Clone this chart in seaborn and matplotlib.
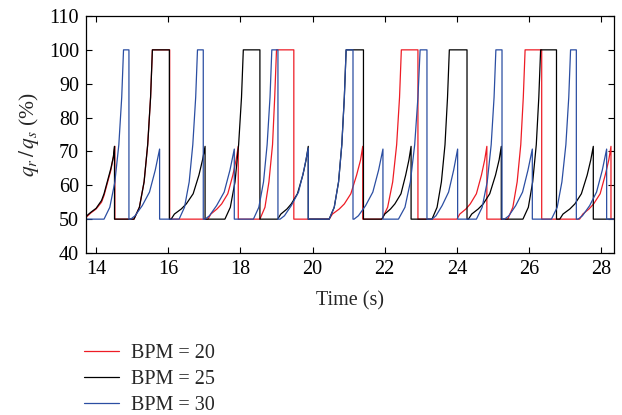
import pandas as pd
import seaborn as sns
import matplotlib
matplotlib.use("Agg")
import matplotlib.pyplot as plt

# values (time in s, q_r/q_s in %)
red_t = [13.72, 13.85, 14.0, 14.15, 14.22, 14.41, 14.48, 14.52, 14.52,
         15.05, 15.2, 15.33, 15.43, 15.51, 15.56, 16.04, 16.04,
         17.1, 17.18, 17.35, 17.48, 17.65, 17.79, 17.88, 17.94, 17.94,
         18.54, 18.68, 18.79, 18.89, 18.95, 19.0, 19.48, 19.48,
         20.46, 20.55, 20.74, 20.88, 21.06, 21.22, 21.33, 21.39, 21.39,
         21.92, 22.08, 22.22, 22.33, 22.41, 22.46, 22.92, 22.92,
         24.0, 24.08, 24.25, 24.37, 24.54, 24.68, 24.77, 24.83, 24.83,
         25.41, 25.55, 25.67, 25.77, 25.84, 25.89, 26.35, 26.35,
         27.4, 27.49, 27.66, 27.79, 27.97, 28.11, 28.21, 28.27, 28.27, 28.35]
red_v = [50.5, 51.8, 53, 55, 57, 64.5, 68.5, 71.5, 50,
         50, 53.5, 61, 72, 86, 100, 100, 50,
         50, 51.5, 53, 54.5, 57.5, 63, 67.5, 71.5, 50,
         50, 53.5, 61, 72, 86, 100, 100, 50,
         50, 51.5, 53, 54.5, 57.5, 63, 67.5, 71.5, 50,
         50, 53.5, 61, 72, 86, 100, 100, 50,
         50, 51.5, 53, 54.5, 57.5, 63, 67.5, 71.5, 50,
         50, 53.5, 61, 72, 86, 100, 100, 50,
         50, 51.5, 53, 54.5, 57.5, 63, 67.5, 71.5, 50, 50]

black_t = [13.72, 13.85, 14.0, 14.15, 14.22, 14.41, 14.48, 14.51, 14.51,
           15.05, 15.2, 15.33, 15.43, 15.51, 15.56, 16.03, 16.03,
           16.08, 16.17, 16.36, 16.5, 16.69, 16.85, 16.95, 17.02, 17.02,
           17.57, 17.72, 17.85, 17.95, 18.03, 18.08, 18.54, 18.54,
           19.03, 19.12, 19.29, 19.41, 19.58, 19.73, 19.82, 19.88, 19.88,
           20.46, 20.6, 20.72, 20.81, 20.88, 20.93, 21.41, 21.41,
           21.92, 22.0, 22.16, 22.28, 22.45, 22.58, 22.67, 22.73, 22.73,
           23.31, 23.45, 23.57, 23.67, 23.74, 23.79, 24.28, 24.28,
           24.32, 24.41, 24.59, 24.73, 24.91, 25.07, 25.17, 25.23, 25.23,
           25.83, 25.98, 26.1, 26.2, 26.27, 26.32, 26.76, 26.76,
           26.85, 26.94, 27.13, 27.27, 27.45, 27.61, 27.71, 27.78, 27.78, 28.35]
black_v = [50.8, 52, 53.2, 55.5, 57.5, 65, 68.5, 71.5, 50,
           50, 53.5, 61, 72, 86, 100, 100, 50,
           50, 51.5, 53, 54.5, 57.5, 63, 67.5, 71.5, 50,
           50, 53.5, 61, 72, 86, 100, 100, 50,
           50, 51.5, 53, 54.5, 57.5, 63, 67.5, 71.5, 50,
           50, 53.5, 61, 72, 86, 100, 100, 50,
           50, 51.5, 53, 54.5, 57.5, 63, 67.5, 71.5, 50,
           50, 53.5, 61, 72, 86, 100, 100, 50,
           50, 51.5, 53, 54.5, 57.5, 63, 67.5, 71.5, 50,
           50, 53.5, 61, 72, 86, 100, 100, 50,
           50, 51.5, 53, 54.5, 57.5, 63, 67.5, 71.5, 50, 50]

blue_t = [13.72, 14.22, 14.38, 14.52, 14.63, 14.71, 14.76, 14.91, 14.91,
          14.96, 15.08, 15.28, 15.48, 15.64, 15.76, 15.76,
          16.3, 16.45, 16.58, 16.68, 16.76, 16.81, 16.97, 16.97,
          17.02, 17.14, 17.34, 17.55, 17.71, 17.83, 17.83,
          18.36, 18.51, 18.64, 18.74, 18.82, 18.87, 19.04, 19.04,
          19.1, 19.22, 19.41, 19.61, 19.76, 19.88, 19.88,
          20.46, 20.6, 20.72, 20.81, 20.88, 20.93, 21.12, 21.12,
          21.15, 21.27, 21.47, 21.67, 21.83, 21.95, 21.95,
          22.38, 22.56, 22.71, 22.83, 22.92, 22.98, 23.17, 23.17,
          23.31, 23.42, 23.59, 23.77, 23.91, 24.02, 24.02,
          24.54, 24.7, 24.84, 24.95, 25.03, 25.08, 25.25, 25.25,
          25.32, 25.44, 25.63, 25.82, 25.97, 26.09, 26.09,
          26.62, 26.78, 26.91, 27.02, 27.1, 27.15, 27.31, 27.31,
          27.36, 27.48, 27.68, 27.87, 28.03, 28.15, 28.15, 28.35]
blue_v = [50, 50, 53.5, 61, 72, 86, 100, 100, 50,
          50, 51, 54, 58, 64.5, 70.7, 50,
          50, 53.5, 61, 72, 86, 100, 100, 50,
          50, 51, 54, 58, 64.5, 70.7, 50,
          50, 53.5, 61, 72, 86, 100, 100, 50,
          50, 51, 54, 58, 64.5, 71.0, 50,
          50, 53.5, 61, 72, 86, 100, 100, 50,
          50, 51, 54, 58, 64.5, 70.7, 50,
          50, 53.5, 61, 72, 86, 100, 100, 50,
          50, 51, 54, 58, 64.5, 70.7, 50,
          50, 53.5, 61, 72, 86, 100, 100, 50,
          50, 51, 54, 58, 64.5, 70.7, 50,
          50, 53.5, 61, 72, 86, 100, 100, 50,
          50, 51, 54, 58, 64.5, 70.7, 50, 50]

labels = ["BPM = 20", "BPM = 25", "BPM = 30"]
colors = ["#ee1c25", "#000000", "#2b4ea2"]

df = pd.concat([
    pd.DataFrame({"t": red_t, "v": red_v, "s": labels[0]}),
    pd.DataFrame({"t": black_t, "v": black_v, "s": labels[1]}),
    pd.DataFrame({"t": blue_t, "v": blue_v, "s": labels[2]}),
], ignore_index=True)

sns.set_style("ticks")
plt.rcParams["font.family"] = ["Liberation Serif", "DejaVu Serif"]
plt.rcParams["mathtext.fontset"] = "stix"

fig = plt.figure(figsize=(6.22, 4.15), dpi=100)
ax = fig.add_axes([86 / 622, 1 - 253 / 415, (613.5 - 86) / 622, (253 - 16) / 415])

sns.lineplot(data=df, x="t", y="v", hue="s", hue_order=labels, palette=colors,
             sort=False, estimator=None, linewidth=0.9, ax=ax, legend=True)

ax.set_xlim(13.72, 28.34)
ax.set_ylim(40, 110)
ax.set_xticks([14, 16, 18, 20, 22, 24, 26, 28])
ax.set_yticks(range(40, 111, 10))
ax.tick_params(direction="in", top=True, right=True, length=4, width=0.8,
               labelsize=14.5, colors="black", pad=5)
for sp in ax.spines.values():
    sp.set_linewidth(0.9)
    sp.set_color("black")
ax.set_xlabel("Time (s)", fontsize=14.5, labelpad=9)
ax.set_ylabel(r"$q_r\,/\,q_s$ (%)", fontsize=15.5, labelpad=6)

handles, lbls = ax.get_legend_handles_labels()
ax.get_legend().remove()
fig.legend(handles, lbls, loc="upper left", bbox_to_anchor=(84 / 622, 1 - 344 / 415),
           frameon=False, fontsize=14.5, handlelength=1.75, handletextpad=0.6,
           labelspacing=0.35, borderpad=0, borderaxespad=0)

fig.savefig("out.png", dpi=100)
